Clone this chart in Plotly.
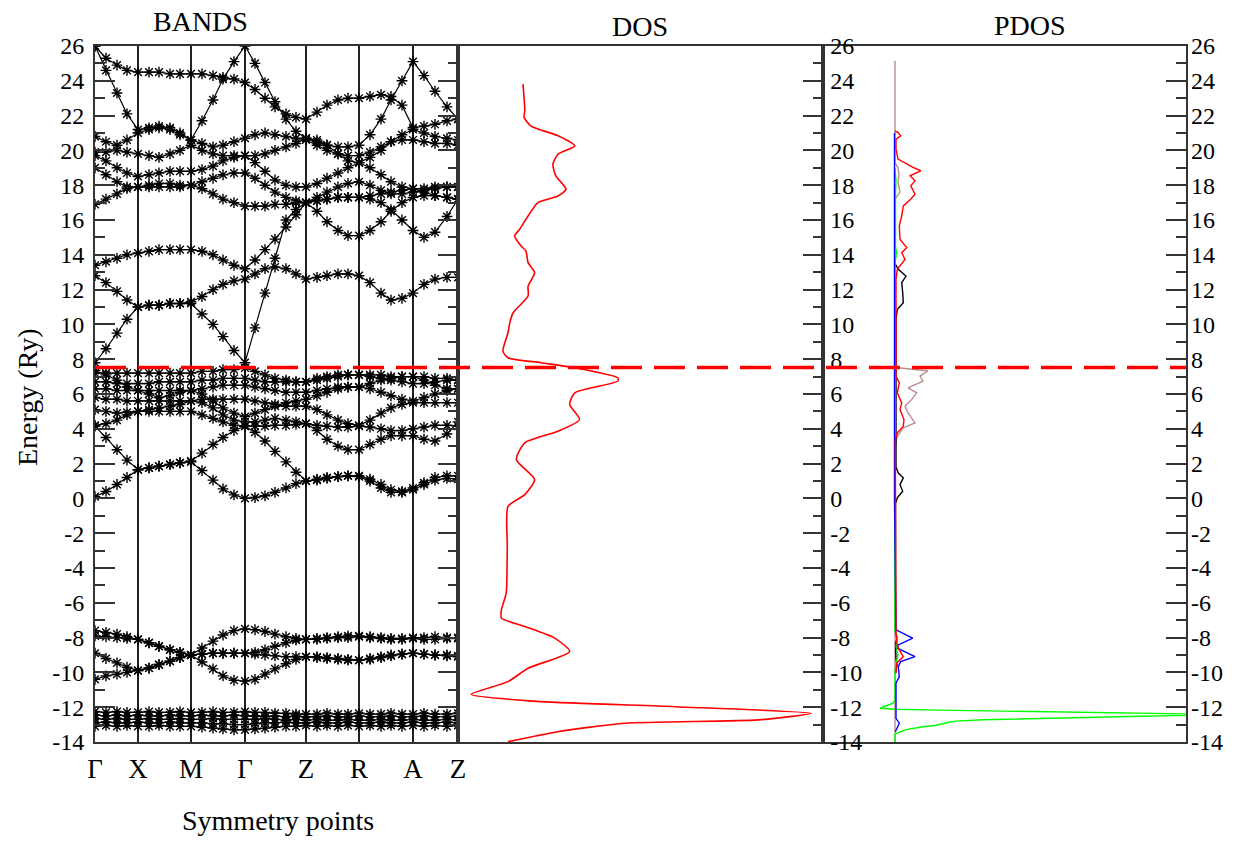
import plotly.graph_objects as go

# ---------------- data ----------------
SYM_K = [0, 43, 96, 150, 211, 264, 318, 363]
SYM_LABELS = ["Γ", "X", "M", "Γ", "Z", "R", "A", "Z"]
K_GRID = [0, 11, 22, 32, 43, 54, 64, 75, 85, 96, 107, 118, 128, 139, 150,
          160, 170, 180, 191, 201, 211, 222, 232, 243, 253, 264,
          275, 286, 296, 307, 318, 329, 340, 352, 363]

E_TICKS = [-14, -12, -10, -8, -6, -4, -2, 0, 2, 4, 6, 8, 10, 12, 14, 16, 18, 20, 22, 24, 26]
E_TICK_TEXT = ["-14", "-12", "-10", "-8", "-6", "-4", "-2", "0", "2", "4", "6", "8", "10",
               "12", "14", "16", "18", "20", "22", "24", "26"]

E_FERMI = 7.52

# conduction bands
U1 = [26.0, 24.6, 23.3, 22.1, 21.2, 21.3, 21.4, 21.3, 21.0, 20.6, 21.7, 22.9, 24.1, 25.1, 26.0,
      25.0, 23.9, 22.8, 21.8, 21.1, 20.7, 20.5, 20.3, 20.2, 20.2, 20.3, 20.9, 21.8, 22.9, 24.0, 25.1,
      24.3, 23.4, 22.5, 21.8]
U2 = [26.0, 25.3, 24.9, 24.6, 24.5, 24.5, 24.5, 24.4, 24.4, 24.4, 24.4, 24.3, 24.2, 24.1, 23.9,
      23.5, 23.0, 22.5, 22.1, 21.9, 21.8, 22.2, 22.6, 22.9, 23.0, 23.0, 23.1, 23.2, 23.1, 22.6, 21.3,
      21.4, 21.5, 21.7, 21.8]
M1 = [20.8, 20.5, 20.3, 20.6, 21.0, 21.2, 21.3, 21.2, 20.9, 20.6, 20.4, 20.2, 20.3, 20.5, 20.7,
      20.9, 21.0, 20.9, 20.8, 20.7, 20.6, 20.3, 20.0, 19.8, 19.7, 19.7, 19.9, 20.2, 20.5, 20.6, 20.6,
      20.5, 20.4, 20.4, 20.3]
M2 = [19.9, 19.9, 20.0, 19.9, 19.8, 19.7, 19.6, 19.8, 20.0, 20.3, 20.0, 19.8, 19.7, 19.7, 19.7,
      19.7, 19.8, 20.0, 20.2, 20.4, 20.7, 20.6, 20.3, 19.8, 19.4, 19.3, 19.6, 20.0, 20.5, 20.9, 21.2,
      21.0, 20.8, 20.7, 20.6]
M3 = [19.7, 19.4, 19.0, 18.7, 18.5, 18.6, 18.7, 18.8, 18.8, 18.8, 18.9, 19.1, 19.4, 19.6, 19.7,
      19.3, 18.8, 18.3, 18.0, 17.9, 17.9, 18.1, 18.4, 18.7, 19.0, 19.3, 19.0, 18.6, 18.2, 17.9, 17.8,
      17.8, 17.9, 17.9, 17.9]
M4 = [19.0, 18.6, 18.2, 17.9, 17.9, 17.9, 17.9, 17.9, 17.9, 18.0, 18.2, 18.4, 18.6, 18.7, 18.7,
      18.4, 18.0, 17.6, 17.3, 17.1, 17.0, 17.1, 17.2, 17.3, 17.3, 17.3, 17.2, 17.0, 16.6, 16.0, 15.4,
      15.0, 15.3, 16.2, 17.2]
M5 = [16.9, 17.2, 17.5, 17.8, 17.9, 18.0, 18.1, 18.1, 18.0, 18.0, 17.8, 17.5, 17.2, 17.0, 16.8,
      16.8, 16.8, 16.9, 16.9, 17.0, 17.0, 16.5, 15.9, 15.4, 15.1, 15.1, 15.4, 15.9, 16.5, 17.0, 17.3,
      17.4, 17.4, 17.3, 17.2]
L1 = [7.8, 8.6, 9.5, 10.3, 11.0, 11.1, 11.1, 11.2, 11.2, 11.2, 10.6, 10.0, 9.3, 8.5, 7.8,
      9.8, 11.8, 13.8, 16.0, 16.6, 17.0, 17.1, 17.2, 17.3, 17.3, 17.3, 17.4, 17.5, 17.6, 17.7, 17.8,
      17.6, 17.4, 17.3, 17.2]
L2 = [12.8, 12.4, 11.9, 11.4, 11.0, 11.1, 11.1, 11.2, 11.2, 11.3, 11.6, 12.0, 12.3, 12.5, 12.6,
      12.9, 13.2, 13.3, 13.2, 12.9, 12.6, 12.7, 12.8, 12.9, 12.9, 12.8, 12.4, 11.8, 11.4, 11.5, 11.8,
      12.3, 12.6, 12.7, 12.7]
L3 = [13.4, 13.6, 13.8, 14.0, 14.1, 14.2, 14.3, 14.3, 14.3, 14.3, 14.2, 14.0, 13.7, 13.4, 13.2,
      13.7, 14.3, 14.9, 15.6, 16.3, 17.0, 17.3, 17.6, 17.9, 18.1, 18.2, 18.0, 17.7, 17.5, 17.5, 17.6,
      17.7, 17.8, 17.9, 17.9]

# valence bands
V1 = [0.1, 0.4, 0.8, 1.2, 1.65, 1.75, 1.85, 1.95, 2.05, 2.1, 1.6, 1.05, 0.55, 0.2, 0.0,
      0.05, 0.15, 0.35, 0.6, 0.85, 1.0, 1.1, 1.2, 1.25, 1.3, 1.25, 1.0, 0.6, 0.35, 0.35, 0.5,
      0.8, 1.05, 1.15, 1.1]
V2 = [4.15, 3.5, 2.8, 2.2, 1.65, 1.75, 1.85, 1.95, 2.05, 2.15, 2.6, 3.1, 3.5, 3.9, 4.15,
      3.8, 3.3, 2.7, 2.1, 1.5, 1.0, 1.05, 1.15, 1.25, 1.3, 1.3, 1.1, 0.8, 0.5, 0.4, 0.6,
      0.9, 1.2, 1.3, 1.3]
V3 = [4.2, 4.3, 4.5, 4.8, 5.0, 5.0, 5.0, 5.0, 5.0, 5.0, 4.8, 4.6, 4.4, 4.2, 4.15,
      4.15, 4.15, 4.2, 4.2, 4.25, 4.3, 4.2, 4.15, 4.1, 4.1, 4.15, 4.1, 4.0, 3.9, 3.9, 4.0,
      4.1, 4.2, 4.2, 4.15]
V4 = [5.1, 5.0, 4.9, 4.95, 5.0, 5.1, 5.2, 5.3, 5.4, 5.6, 5.5, 5.2, 4.8, 4.5, 4.4,
      4.4, 4.5, 4.6, 4.5, 4.4, 4.3, 3.9, 3.4, 3.0, 2.8, 2.8, 3.1, 3.4, 3.6, 3.6, 3.6,
      3.4, 3.3, 3.7, 4.4]
V5 = [5.8, 5.7, 5.7, 5.6, 5.6, 5.6, 5.6, 5.6, 5.6, 5.6, 5.7, 5.7, 5.7, 5.7, 5.7,
      5.6, 5.5, 5.4, 5.3, 5.3, 5.3, 5.1, 4.8, 4.5, 4.3, 4.2, 4.5, 4.9, 5.2, 5.4, 5.5,
      5.5, 5.5, 5.5, 5.5]
V6 = [6.3, 6.3, 6.2, 6.2, 6.2, 6.2, 6.2, 6.2, 6.2, 6.2, 6.3, 6.4, 6.5, 6.5, 6.5,
      6.4, 6.3, 6.2, 6.1, 6.1, 6.1, 6.2, 6.3, 6.4, 6.4, 6.4, 6.3, 6.1, 5.9, 5.7, 5.6,
      5.8, 6.0, 6.2, 6.3]
V7 = [6.7, 6.7, 6.6, 6.6, 6.6, 6.6, 6.7, 6.7, 6.7, 6.7, 6.8, 6.8, 6.9, 6.9, 6.9,
      6.8, 6.7, 6.7, 6.7, 6.7, 6.7, 6.8, 6.9, 7.0, 7.1, 7.1, 7.0, 6.9, 6.8, 6.7, 6.6,
      6.6, 6.7, 6.8, 6.8]
V8 = [7.2, 7.2, 7.2, 7.2, 7.2, 7.2, 7.2, 7.2, 7.2, 7.2, 7.3, 7.3, 7.4, 7.4, 7.5,
      7.3, 7.1, 6.9, 6.8, 6.7, 6.7, 6.9, 7.0, 7.1, 7.1, 7.1, 7.1, 7.1, 7.0, 7.0, 7.0,
      7.0, 6.9, 6.9, 6.8]
V9 = [7.35, 7.1, 6.8, 6.4, 6.2, 6.0, 5.8, 5.9, 6.1, 6.2, 6.0, 5.6, 5.2, 4.9, 4.7,
      4.9, 5.1, 5.3, 5.5, 5.6, 5.7, 5.9, 6.1, 6.3, 6.4, 6.4, 6.6, 6.8, 6.9, 7.0, 7.0,
      6.8, 6.5, 6.3, 6.3]

# lower valence bands
W1 = [-7.6, -7.7, -7.8, -7.95, -8.1, -8.3, -8.5, -8.7, -8.85, -9.0, -8.6, -8.2, -7.85, -7.6, -7.5,
      -7.55, -7.65, -7.8, -7.95, -8.05, -8.1, -8.05, -8.0, -7.95, -7.9, -7.9, -7.95, -8.0, -8.05, -8.05, -8.0,
      -8.0, -7.95, -8.0, -8.0]
W2 = [-7.9, -7.95, -8.0, -8.05, -8.1, -8.3, -8.5, -8.7, -8.85, -9.0, -8.95, -8.9, -8.9, -8.9, -8.9,
      -8.85, -8.7, -8.5, -8.3, -8.15, -8.1, -8.1, -8.05, -8.0, -8.0, -7.95, -8.0, -8.05, -8.1, -8.1, -8.05,
      -8.1, -8.1, -8.05, -8.05]
W3 = [-8.9, -9.2, -9.45, -9.7, -9.9, -9.75, -9.55, -9.35, -9.15, -9.0, -8.95, -8.9, -8.9, -8.9, -8.9,
      -8.95, -9.0, -9.05, -9.1, -9.1, -9.1, -9.1, -9.15, -9.2, -9.25, -9.3, -9.2, -9.1, -9.0, -8.95, -8.9,
      -8.95, -9.0, -9.0, -9.05]
W4 = [-10.4, -10.2, -10.1, -10.0, -9.9, -9.75, -9.55, -9.35, -9.15, -9.0, -9.4, -9.8, -10.2, -10.45, -10.5,
      -10.4, -10.1, -9.8, -9.5, -9.25, -9.1, -9.15, -9.2, -9.25, -9.3, -9.3, -9.25, -9.15, -9.05, -8.95, -8.9,
      -8.95, -9.0, -9.05, -9.1]

# semicore (flat) bands
F1 = [-12.25, -12.3, -12.25, -12.3, -12.3, -12.25, -12.3, -12.3, -12.25, -12.3, -12.3, -12.25, -12.3, -12.3, -12.25,
      -12.3, -12.3, -12.35, -12.35, -12.4, -12.4, -12.4, -12.35, -12.4, -12.4, -12.35, -12.4, -12.4, -12.35, -12.4, -12.4,
      -12.35, -12.4, -12.4, -12.35]
F2 = [-12.45, -12.5, -12.45, -12.5, -12.45, -12.5, -12.5, -12.45, -12.5, -12.5, -12.45, -12.5, -12.5, -12.45, -12.5,
      -12.5, -12.55, -12.5, -12.55, -12.5, -12.55, -12.55, -12.5, -12.55, -12.55, -12.5, -12.55, -12.55, -12.5, -12.55, -12.55,
      -12.5, -12.55, -12.55, -12.5]
F3 = [-12.65, -12.7, -12.65, -12.7, -12.7, -12.65, -12.7, -12.7, -12.65, -12.7, -12.7, -12.65, -12.7, -12.7, -12.7,
      -12.7, -12.65, -12.7, -12.75, -12.7, -12.75, -12.7, -12.75, -12.75, -12.7, -12.75, -12.75, -12.7, -12.75, -12.75, -12.7,
      -12.75, -12.75, -12.7, -12.75]
F4 = [-12.9, -12.85, -12.9, -12.9, -12.85, -12.9, -12.9, -12.85, -12.9, -12.9, -12.9, -12.95, -12.95, -13.0, -13.0,
      -12.95, -12.9, -12.9, -12.85, -12.9, -12.9, -12.85, -12.9, -12.9, -12.85, -12.9, -12.9, -12.85, -12.9, -12.9, -12.85,
      -12.9, -12.9, -12.85, -12.9]
F5 = [-13.1, -13.05, -13.1, -13.05, -13.1, -13.1, -13.05, -13.1, -13.1, -13.1, -13.15, -13.2, -13.25, -13.3, -13.3,
      -13.25, -13.2, -13.15, -13.1, -13.1, -13.05, -13.1, -13.05, -13.1, -13.05, -13.1, -13.05, -13.1, -13.05, -13.1, -13.05,
      -13.1, -13.05, -13.1, -13.05]

BANDS = [U1, U2, M1, M2, M3, M4, M5, L1, L2, L3,
         V1, V2, V3, V4, V5, V6, V7, V8, V9,
         W1, W2, W3, W4, F1, F2, F3, F4, F5]

# total DOS (energy, dos)
DOS_E = [23.81, 22.28, 21.9, 21.4, 20.84, 20.26, 19.78, 19.2, 18.54, 17.77, 17.38, 17.0, 16.23,
         15.47, 15.08, 14.5, 14.22, 13.55, 12.97, 12.2, 11.63, 10.67, 10.1, 9.52, 8.46, 8.08, 7.8,
         7.51, 6.93, 6.74, 6.07, 5.4, 4.53, 3.86, 3.19, 2.23, 1.08, 0.22, -0.46, -2.76, -5.44,
         -6.4, -6.88, -7.36, -8.03, -8.8, -9.76, -10.53, -11.26, -11.68, -11.97, -12.35, -12.73,
         -12.92, -13.41, -13.98]
DOS_V = [17.8, 18.3, 18.1, 20.0, 27.4, 32.0, 27.4, 26.0, 26.8, 29.6, 27.4, 21.9, 19.2,
         16.9, 15.5, 17.3, 18.6, 19.2, 21.0, 19.2, 19.2, 15.1, 14.2, 13.7, 12.3, 13.7, 22.7,
         32.0, 43.8, 43.8, 32.0, 30.6, 33.3, 27.4, 18.3, 16.0, 21.0, 18.3, 13.7, 13.5, 13.2,
         11.9, 11.9, 18.3, 26.5, 30.6, 19.2, 13.7, 3.6, 22.8, 59.4, 96.8, 82.2,
         45.7, 27.4, 13.7]

# partial DOS components (energy, value)
PD_BROWN_E = [25.15, 19.3, 19.0, 18.6, 18.2, 17.6, 17.2, 7.6, 7.51, 7.32, 7.03, 6.74, 6.35, 6.07, 5.68,
              5.3, 4.92, 4.34, 4.05, 3.57, 3.0, -14.0]
PD_BROWN_V = [0, 0, 3, 4, 3, 5, 0, 0, 3.3, 33, 25, 28, 13, 21.7, 16.7,
              10, 13, 20, 8.3, 2.3, 0, 0]
PD_RED_E = [21.1, 21.03, 20.84, 20.65, 20.07, 19.5, 19.02, 18.83, 18.54, 18.25, 17.96, 17.48, 17.19,
            16.81, 16.23, 15.66, 14.89, 14.41, 14.12, 13.74, 13.17, 12.6, 7.03, 6.64, 6.07, 5.49,
            5.11, 4.53, 4.15, 3.77, 3.38, -7.74, -8.51, -9.09, -9.47, -10.05]
PD_RED_V = [0, 3.3, 5.7, 1, 1, 3, 18, 25.7, 15, 20, 15.7, 20, 15.7,
            8.3, 6.7, 4.3, 5, 11.7, 6.7, 10, 2.3, 1, 1, 4.3, 2.3, 6.7,
            5, 9, 8.3, 2.3, 0.3, 1, 2.3, 8.3, 1.7, 1]
PD_BLACK_E = [13.5, 13.17, 12.78, 12.4, 11.82, 11.25, 10.86, 10.3, 1.8, 1.46, 1.18, 0.79, 0.41, 0.03,
              -0.3, -7.7, -8.0, -8.4, -9.2, -9.6, -10.0]
PD_BLACK_V = [0, 3.3, 11, 6.7, 7.7, 8.3, 2.3, 1, 1, 3.3, 8.3, 5, 7.7, 2.3,
              0.5, 0.5, 2, 0.5, 1, 2, 0.5]
PD_BLUE_E = [21.0, 19.3, 13.2, 11.0, 9.0, 3.0, 0.5, -0.1, -7.55, -7.74, -8.03, -8.42, -8.61, -9.09,
             -9.38, -9.67, -10.24, -10.62, -12.64, -12.92, -13.21, -13.41]
PD_BLUE_V = [-0.5, -0.5, -0.5, -0.5, -0.5, -0.5, -0.5, -0.5, 1, 8.3, 17.7, 3.3, 2.3, 20,
             5.7, 3.3, 4.3, 1, 1, 4.3, 2.3, 0.3]
PD_GREEN_E = [19.0, 18.2, 17.6, 14.5, 14.1, 13.5, -7.6, -8.0, -8.5, -9.0, -9.5, -10.0, -11.6,
              -11.77, -12.06, -12.12, -12.17, -12.25, -12.33, -12.42, -12.52, -12.62, -12.72,
              -12.8, -12.85, -13.05, -13.12, -13.3, -13.54, -14.0]
PD_GREEN_V = [0, 1, 0.5, 0.5, 1.5, 0, 0, 2.5, 1, 3, 1, 0, 0,
              -2, -15, 0, 45, 145, 245, 330, 248, 161, 88,
              61, 55, 40, 28, 10, 0, 0]

# ---------------- figure ----------------
FONT = "Liberation Serif"
AXC = "#333333"
fig = go.Figure()

for band in BANDS:
    fig.add_trace(go.Scatter(
        x=K_GRID, y=band, mode="lines+markers", xaxis="x", yaxis="y",
        line=dict(color="black", width=1.2),
        marker=dict(symbol="asterisk-open", size=9, color="black",
                    line=dict(width=1.4, color="black")),
        hoverinfo="skip", showlegend=False))

fig.add_trace(go.Scatter(x=DOS_V, y=DOS_E, mode="lines", xaxis="x2", yaxis="y2",
                         line=dict(color="#ff0000", width=1.6, shape="spline", smoothing=0.6),
                         showlegend=False))

for xs, ys, col in [(PD_BROWN_V, PD_BROWN_E, "#bc8f8f"),
                    (PD_BLACK_V, PD_BLACK_E, "#000000"),
                    (PD_GREEN_V, PD_GREEN_E, "#00ff00"),
                    (PD_BLUE_V, PD_BLUE_E, "#0000ff"),
                    (PD_RED_V, PD_RED_E, "#ff0000")]:
    fig.add_trace(go.Scatter(x=xs, y=ys, mode="lines", xaxis="x3", yaxis="y3",
                             line=dict(color=col, width=1.4), showlegend=False))

# invisible trace so that the right-hand energy axis is drawn
fig.add_trace(go.Scatter(x=[None], y=[None], mode="lines", xaxis="x3", yaxis="y4",
                         showlegend=False, hoverinfo="skip"))

d1 = 363 / 1091
d2 = 728 / 1091
yrange = [-14, 26]
tickfont = dict(family=FONT, size=24, color="black")
minor = dict(ticks="inside", ticklen=10, tickwidth=2, tickcolor=AXC, dtick=1, tick0=0, showgrid=False)
ytick_common = dict(range=yrange, tickmode="array", tickvals=E_TICKS, ticktext=E_TICK_TEXT)

fig.update_layout(
    width=1243, height=842,
    margin=dict(l=95, r=57, t=46, b=100),
    plot_bgcolor="white", paper_bgcolor="white",
    showlegend=False,
    xaxis=dict(domain=[0, d1], range=[SYM_K[0], SYM_K[-1]], tickvals=SYM_K, ticktext=SYM_LABELS,
               ticks="", showgrid=True, gridcolor="#222222", gridwidth=1.5, zeroline=False,
               showline=True, mirror=True, linecolor=AXC, linewidth=2,
               tickfont=dict(family=FONT, size=27, color="black"), ticklabelstandoff=2),
    xaxis2=dict(domain=[d1, d2], range=[0, 100], showticklabels=False, ticks="", showgrid=False,
                zeroline=False, showline=True, mirror=True, linecolor=AXC, linewidth=2),
    xaxis3=dict(domain=[d2, 1], range=[-72, 291], showticklabels=False, ticks="", showgrid=False,
                zeroline=False, showline=True, mirror=True, linecolor=AXC, linewidth=2),
    yaxis=dict(anchor="x", **ytick_common, ticks="inside", ticklen=20, tickwidth=2,
               tickcolor=AXC, minor=minor, showline=True, linecolor=AXC, linewidth=2, mirror="ticks",
               showgrid=False, zeroline=False, tickfont=tickfont, ticklabelstandoff=4),
    yaxis2=dict(anchor="x2", **ytick_common, side="right", ticks="inside", ticklen=20,
                tickwidth=2, tickcolor=AXC, minor=minor, showticklabels=False, showline=True,
                linecolor=AXC, linewidth=2, mirror=True, showgrid=False, zeroline=False),
    yaxis3=dict(anchor="x3", **ytick_common, side="left", ticks="",
                ticklabelposition="inside", ticklabeloverflow="allow", tickfont=tickfont,
                showline=True, linecolor=AXC, linewidth=2, mirror=True, showgrid=False,
                zeroline=False, ticklabelstandoff=9),
    yaxis4=dict(anchor="x3", overlaying="y3", **ytick_common, side="right",
                ticks="inside", ticklen=20, tickwidth=2, tickcolor=AXC, minor=minor,
                tickfont=tickfont, showline=False, showgrid=False, zeroline=False,
                ticklabelstandoff=4),
)

fig.add_shape(type="line", xref="paper", yref="y", x0=0, x1=1, y0=E_FERMI, y1=E_FERMI,
              line=dict(color="#ff0000", width=3.5, dash="31px,12px"), layer="above")

ann_font = dict(family=FONT, size=28, color="black")
for txt, xp, yp in [("BANDS", (200 - 95) / 1091, (742 - 22) / 696),
                    ("DOS", (640 - 95) / 1091, (742 - 27) / 696),
                    ("PDOS", (1030 - 95) / 1091, (742 - 25) / 696)]:
    fig.add_annotation(text=txt, x=xp, y=yp, xref="paper", yref="paper", showarrow=False,
                       xanchor="center", yanchor="middle", font=ann_font)
fig.add_annotation(text="Symmetry points", x=(278 - 95) / 1091, y=(742 - 820) / 696,
                   xref="paper", yref="paper", showarrow=False, xanchor="center",
                   yanchor="middle", font=ann_font)
fig.add_annotation(text="Energy (Ry)", x=(27 - 95) / 1091, y=(742 - 397) / 696, textangle=-90,
                   xref="paper", yref="paper", showarrow=False, xanchor="center",
                   yanchor="middle", font=ann_font)

fig.write_html("out.html")
